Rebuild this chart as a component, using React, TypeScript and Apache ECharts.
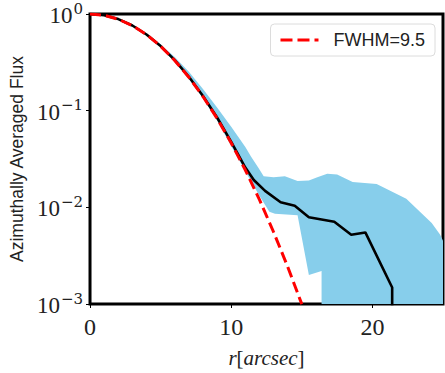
import React, { useEffect, useRef } from "react";
import * as echarts from "echarts";

// Gaussian PSF model (FWHM = 9.5)
const modelR = [0, 1, 2, 3, 4, 5, 6, 7, 8, 9, 10, 11, 12, 13, 14, 15];
const modelVals = [1, 0.97, 0.884, 0.758, 0.612, 0.464, 0.331, 0.222, 0.14, 0.0831, 0.0463, 0.0243, 0.012, 0.00556, 0.00243, 0.000997];

// Measured azimuthally averaged profile (black line)
const profileR = [0, 1, 2, 3, 4, 5, 6, 7, 8, 9, 10, 11, 11.6, 12.4, 13.5, 14.5, 15.5, 16.4, 17.3, 18.5, 19.5, 21.4, 21.4];
const profileVals = [1, 0.971, 0.886, 0.76, 0.614, 0.466, 0.333, 0.224, 0.142, 0.085, 0.0475, 0.0258, 0.0192, 0.0148, 0.0113, 0.0104, 0.0079, 0.0075, 0.0071, 0.0052, 0.0055, 0.00148, 0.0009];

// Shaded uncertainty band: upper edge
const upperR = [0, 1, 2, 3, 4, 5, 6, 7, 8, 9, 10, 11, 11.4, 11.9, 12.3, 13.0, 13.8, 14.7, 15.5, 16.1, 16.8, 17.5, 18.6, 20.3, 22.4, 24.2, 24.8, 25];
const upperVals = [1, 0.975, 0.893, 0.772, 0.63, 0.485, 0.358, 0.252, 0.168, 0.108, 0.068, 0.042, 0.0335, 0.026, 0.021, 0.0205, 0.021, 0.0187, 0.019, 0.0205, 0.0222, 0.0218, 0.0183, 0.0174, 0.0123, 0.0069, 0.0052, 0.0045];
// Shaded uncertainty band: lower edge
const lowerR = [0, 1, 2, 3, 4, 5, 6, 7, 8, 9, 10, 10.4, 11, 12, 12.7, 13.1, 14.7, 15.5, 16.4, 16.4, 25];
const lowerVals = [1, 0.968, 0.88, 0.752, 0.605, 0.457, 0.324, 0.215, 0.135, 0.079, 0.043, 0.034, 0.0235, 0.0132, 0.009, 0.0086, 0.0083, 0.002, 0.0022, 0.0009, 0.0009];

const xTicks = [0, 10, 20];
const yTickExps = [0, -1, -2, -3];

const legendLabel = "FWHM=9.5";

export default function App() {
  const ref = useRef<HTMLDivElement>(null);
  useEffect(() => {
    if (!ref.current) return;
    const chart = echarts.init(ref.current, undefined, { renderer: "svg" });
    const upperPts = upperR.map((r, i) => [r, upperVals[i]]);
    const lowerPts = lowerR.map((r, i) => [r, lowerVals[i]]).reverse();
    const bandPts = upperPts.concat(lowerPts);
    const serif = "Liberation Serif";
    const sans = "Liberation Sans";
    chart.setOption({
      animation: false,
      backgroundColor: "#fff",
      grid: {
        left: 87,
        top: 14,
        right: 2,
        bottom: 62,
        show: true,
        borderColor: "#000",
        borderWidth: 3,
        backgroundColor: "transparent",
      },
      legend: {
        data: [
          {
            name: legendLabel,
            icon: "path://M0,0h12v3h-12z M17,0h12v3h-12z M34,0h4v3h-4z",
          },
        ],
        right: 10,
        top: 24,
        padding: [7, 10, 7, 10],
        backgroundColor: "#fff",
        borderColor: "#dcdcdc",
        borderWidth: 1,
        borderRadius: 4,
        itemWidth: 38,
        itemHeight: 3,
        itemStyle: { color: "#ff0000" },
        textStyle: { fontFamily: sans, fontSize: 18, color: "#222", padding: [0, 0, 0, 10] },
      },
      xAxis: {
        type: "value",
        min: 0,
        max: 25,
        interval: 10,
        axisLine: { show: false },
        splitLine: { show: false },
        axisTick: { show: true, customValues: xTicks, length: 4, lineStyle: { color: "#000", width: 1 } },
        axisLabel: {
          customValues: xTicks,
          margin: 11,
          fontFamily: serif,
          fontSize: 24,
          color: "#222",
        },
        name: "{i|r}{n|[}{i|arcsec}{n|]}",
        nameLocation: "middle",
        nameGap: 43,
        nameTextStyle: {
          rich: {
            i: { fontFamily: serif, fontStyle: "italic", fontSize: 21, color: "#222" },
            n: { fontFamily: serif, fontSize: 21, color: "#222" },
          },
        },
      },
      yAxis: {
        type: "log",
        logBase: 10,
        min: 0.001,
        max: 1,
        axisLine: { show: false },
        splitLine: { show: false },
        minorTick: { show: false },
        axisTick: { show: true, length: 4, lineStyle: { color: "#000", width: 1 } },
        axisLabel: {
          margin: 7,
          formatter: (v: number) => {
            const e = Math.round(Math.log10(v));
            if (!yTickExps.includes(e)) return "";
            const s = e < 0 ? "\u2212" + String(-e) : String(e);
            return "{b|10}{s|" + s + "}";
          },
          rich: {
            b: { fontFamily: serif, fontSize: 23, color: "#222", verticalAlign: "bottom", lineHeight: 26, padding: [0, 1, 0, 0] },
            s: { fontFamily: "DejaVu Serif", fontSize: 15, color: "#222", verticalAlign: "top", lineHeight: 26 },
          },
        },
        name: "Azimuthally Averaged Flux",
        nameLocation: "middle",
        nameGap: 62,
        nameTextStyle: { fontFamily: sans, fontSize: 17.5, color: "#222" },
      },
      series: [
        {
          type: "custom",
          name: "band",
          clip: true,
          silent: true,
          z: 1,
          data: [[0, 1]],
          renderItem: (_params: any, api: any) => {
            const points = bandPts.map((p) => api.coord(p));
            return {
              type: "polygon",
              shape: { points },
              style: { fill: "#87CEEB", stroke: "none" },
            };
          },
        },
        {
          type: "line",
          name: "profile",
          data: profileR.map((r, i) => [r, profileVals[i]]),
          symbol: "none",
          showSymbol: false,
          clip: true,
          z: 2,
          lineStyle: { color: "#000", width: 2.6 },
        },
        {
          type: "line",
          name: legendLabel,
          data: modelR.map((r, i) => [r, modelVals[i]]),
          symbol: "none",
          showSymbol: false,
          clip: true,
          z: 3,
          itemStyle: { color: "#ff0000" },
          lineStyle: { color: "#ff0000", width: 3, type: [11, 5] },
        },
      ],
    });
    return () => chart.dispose();
  }, []);
  return (
    <div
      ref={ref}
      style={{ position: "fixed", left: 0, top: 0, width: 445, height: 373 }}
    />
  );
}
